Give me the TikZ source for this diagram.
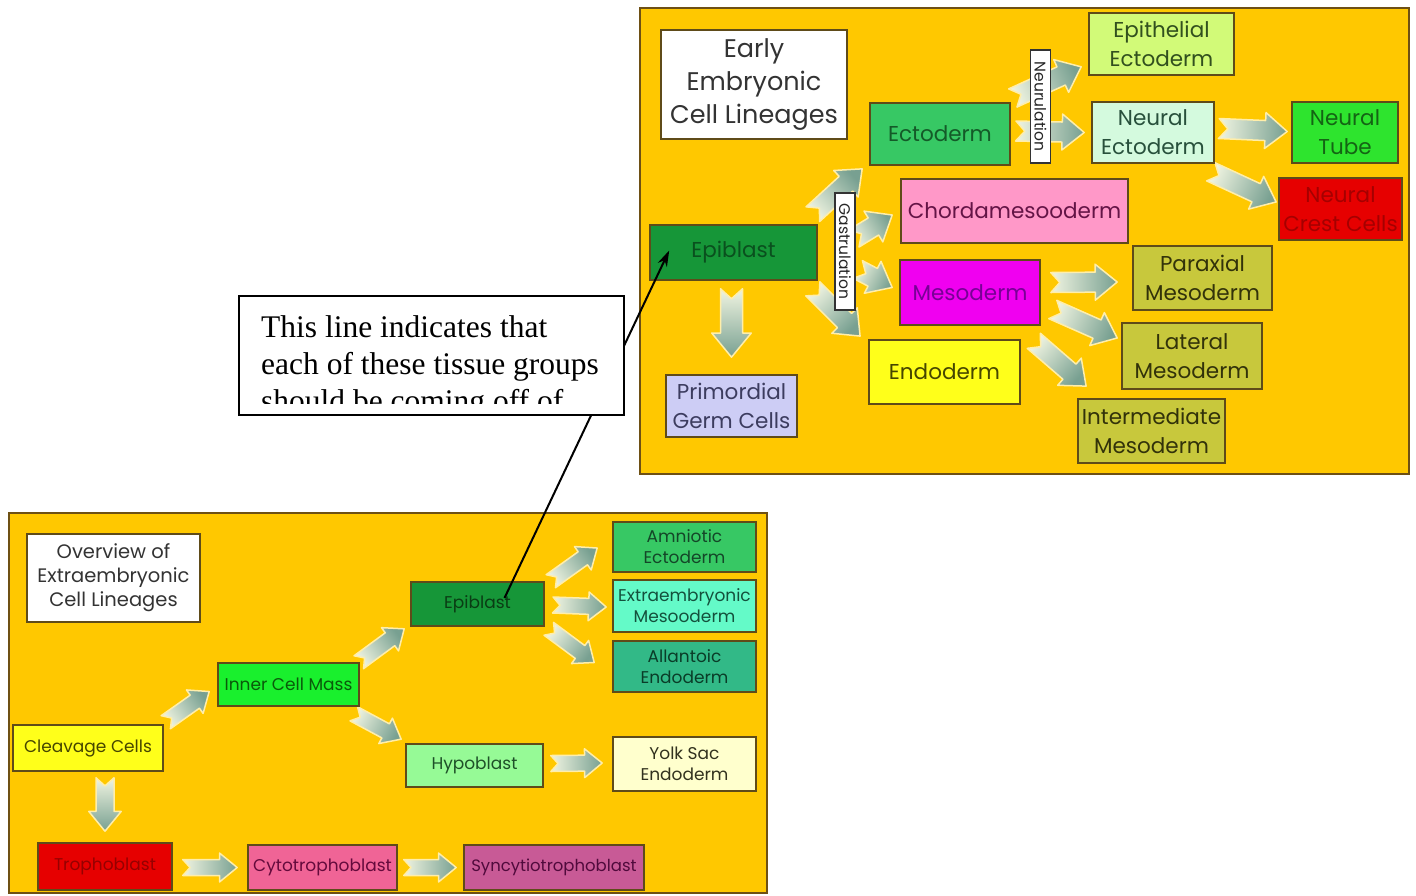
\documentclass[tikz,border=0pt]{standalone}
\usepackage{fontspec}
\setmainfont{Poppins}
\newfontfamily\calloutfont{Liberation Serif}
\usetikzlibrary{calc,arrows.meta}
\pgfdeclarelayer{panel}
\pgfdeclarelayer{arrowlayer}
\pgfsetlayers{panel,arrowlayer,main}

\definecolor{panelc}{RGB}{255,200,0}
\definecolor{panelline}{RGB}{110,80,20}
\definecolor{boxline}{RGB}{95,75,25}
\definecolor{arrtail}{RGB}{240,244,225}
\definecolor{arrhead}{RGB}{120,160,145}
\definecolor{arrglow}{RGB}{255,238,170}
% fills
\definecolor{cEcto}{RGB}{55,200,100}
\definecolor{cEpith}{RGB}{210,250,120}
\definecolor{cNEcto}{RGB}{212,250,222}
\definecolor{cTube}{RGB}{46,228,46}
\definecolor{cRed}{RGB}{230,0,0}
\definecolor{cChorda}{RGB}{255,152,200}
\definecolor{cEpi}{RGB}{22,150,56}
\definecolor{cMeso}{RGB}{240,0,240}
\definecolor{cEndo}{RGB}{255,255,26}
\definecolor{cPrim}{RGB}{205,205,245}
\definecolor{cOlive}{RGB}{200,200,60}
\definecolor{cICM}{RGB}{25,240,45}
\definecolor{cHypo}{RGB}{150,250,150}
\definecolor{cExtra}{RGB}{100,250,200}
\definecolor{cAllan}{RGB}{50,185,135}
\definecolor{cYolk}{RGB}{255,255,205}
\definecolor{cCyto}{RGB}{240,100,150}
\definecolor{cSync}{RGB}{200,90,150}

\tikzset{
  box/.style={draw=boxline, line width=1.6pt, inner sep=0pt, align=center},
  topf/.style={font=\fontsize{21.5}{29}\selectfont},
  botf/.style={font=\fontsize{17}{21}\selectfont},
  blockarrow/.style={draw=arrglow, line width=1.5pt, line join=round, top color=arrhead, bottom color=arrtail},
  panelbox/.style={fill=panelc, draw=panelline, line width=1.6pt},
  vlabel/.style={draw=black!80, fill=white, line width=1.2pt, inner sep=0pt, rotate=-90, font=\fontsize{15.5}{17}\selectfont, text=black!85},
  callout/.style={draw=black, fill=white, line width=1.3pt},
  pointer/.style={draw=black, line width=2pt, -{Stealth[length=16pt,width=10pt]}},
}

% \bx[style]{name}{x1}{y1}{x2}{y2}{fill}{text}
\newcommand{\bx}[8][]{\node[box,fill=#7,minimum width={#5-#3},minimum height={#6-#4},#1] (#2) at ({(#3+#5)/2},{(#4+#6)/2}) {#8};}

% \barrow[half shaft width]{tail}{head}
\newcommand{\barrow}[3][10]{%
  \path let \p1=#2, \p2=#3 in \pgfextra{%
    \pgfmathsetmacro\baAng{atan2(\y2-\y1,\x2-\x1)}%
    \pgfmathsetmacro\baLen{veclen(\x2-\x1,\y2-\y1)}%
    \pgfmathsetmacro\baSh{\baAng-90}%
    \xdef\baAngG{\baAng}\xdef\baLenG{\baLen}\xdef\baShG{\baSh}%
    \xdef\baX{\x1}\xdef\baY{\y1}};%
  \def\bw{#1}%
  \begin{scope}[shift={(\baX,\baY)}, rotate=\baAngG]
    \shadedraw[blockarrow, shading angle=\baShG]
      (0pt,{\bw pt}) -- ({\baLenG pt-2.2*\bw pt},{\bw pt}) -- ({\baLenG pt-2.2*\bw pt},{1.8*\bw pt})
      -- ({\baLenG pt},0pt) -- ({\baLenG pt-2.2*\bw pt},{-1.8*\bw pt}) -- ({\baLenG pt-2.2*\bw pt},{-\bw pt})
      -- (0pt,{-\bw pt}) -- ({0.9*\bw pt},0pt) -- cycle;
  \end{scope}%
}

\begin{document}
\begin{tikzpicture}[x=1pt,y=-1pt]
\useasboundingbox (0,0) rectangle (1416,895);

\begin{pgfonlayer}{panel}
  \draw[panelbox] (640,8) rectangle (1409,474);
  \draw[panelbox] (9,513) rectangle (767,893);
\end{pgfonlayer}

% ---------- top panel ----------
\bx[font=\fontsize{25.5}{33}\selectfont, text=black!80]{titleT}{661}{30}{847}{139}{white}{Early\\Embryonic\\Cell Lineages}
\bx[topf, text={rgb,255:red,20;green,90;blue,40}]{ecto}{870}{103}{1010}{165}{cEcto}{Ectoderm}
\bx[topf, text={rgb,255:red,50;green,80;blue,30}]{epith}{1089}{13}{1234}{75}{cEpith}{Epithelial\\Ectoderm}
\bx[topf, text={rgb,255:red,40;green,80;blue,60}]{nEcto}{1092}{102}{1214}{163}{cNEcto}{Neural\\Ectoderm}
\bx[topf, text={rgb,255:red,20;green,100;blue,20}]{tube}{1292}{102}{1398}{163}{cTube}{Neural\\Tube}
\bx[topf, text={rgb,255:red,165;green,0;blue,0}]{crest}{1279}{178}{1402}{240}{cRed}{Neural\\Crest Cells}
\bx[topf, text={rgb,255:red,100;green,20;blue,70}]{chorda}{901}{179}{1128}{243}{cChorda}{Chordamesooderm}
\bx[topf, text={rgb,255:red,10;green,80;blue,30}]{epiT}{650}{225}{817}{280}{cEpi}{Epiblast}
\bx[topf, text={rgb,255:red,120;green,0;blue,150}]{meso}{900}{260}{1040}{325}{cMeso}{Mesoderm}
\bx[topf, text={rgb,255:red,70;green,70;blue,0}]{endo}{869}{340}{1020}{404}{cEndo}{Endoderm}
\bx[topf, text={rgb,255:red,60;green,60;blue,95}]{prim}{666}{375}{797}{437}{cPrim}{Primordial\\Germ Cells}
\bx[topf, text={rgb,255:red,50;green,50;blue,10}]{para}{1133}{246}{1272}{310}{cOlive}{Paraxial\\Mesoderm}
\bx[topf, text={rgb,255:red,50;green,50;blue,10}]{lat}{1122}{323}{1262}{389}{cOlive}{Lateral\\Mesoderm}
\bx[topf, text={rgb,255:red,50;green,50;blue,10}]{inter}{1078}{399}{1225}{463}{cOlive}{Intermediate\\Mesoderm}

% ---------- bottom panel ----------
\bx[font=\fontsize{19.5}{24}\selectfont, text=black!80]{titleB}{27}{534}{200}{622}{white}{Overview of\\Extraembryonic\\Cell Lineages}
\bx[botf, text={rgb,255:red,70;green,70;blue,0}]{cleav}{13}{725}{163}{771}{cEndo}{Cleavage Cells}
\bx[botf, text={rgb,255:red,10;green,90;blue,10}]{icm}{218}{663}{359}{706}{cICM}{Inner Cell Mass}
\bx[botf, text={rgb,255:red,10;green,60;blue,20}]{epiB}{411}{582}{544}{626}{cEpi}{Epiblast}
\bx[botf, text={rgb,255:red,30;green,80;blue,40}]{hypo}{406}{744}{543}{787}{cHypo}{Hypoblast}
\bx[botf, text={rgb,255:red,20;green,70;blue,40}]{amn}{613}{522}{756}{572}{cEcto}{Amniotic\\Ectoderm}
\bx[botf, text={rgb,255:red,20;green,80;blue,60}]{extra}{613}{580}{756}{632}{cExtra}{Extraembryonic\\Mesooderm}
\bx[botf, text={rgb,255:red,10;green,60;blue,40}]{allan}{613}{641}{756}{692}{cAllan}{Allantoic\\Endoderm}
\bx[botf, text={rgb,255:red,50;green,50;blue,30}]{yolk}{613}{737}{756}{791}{cYolk}{Yolk Sac\\Endoderm}
\bx[botf, text={rgb,255:red,150;green,0;blue,0}]{troph}{38}{843}{172}{890}{cRed}{Trophoblast}
\bx[botf, text={rgb,255:red,100;green,10;blue,60}]{cyto}{248}{845}{397}{890}{cCyto}{Cytotrophoblast}
\bx[botf, font=\fontsize{16.5}{21}\selectfont, text={rgb,255:red,80;green,10;blue,60}]{sync}{464}{845}{644}{890}{cSync}{Syncytiotrophoblast}

% ---------- block arrows ----------
\begin{pgfonlayer}{arrowlayer}
  \barrow{($(epiT.north east)+(-5,-10)$)}{($(ecto.south west)+(-7,3)$)}
  \barrow{($(epiT.east)+(36,-14)$)}{($(chorda.west)+(-8,4)$)}
  \barrow{($(epiT.east)+(40,17)$)}{($(meso.west)+(-7,-5)$)}
  \barrow{($(epiT.south east)+(-5,8)$)}{($(endo.north west)+(-8,-3)$)}
  \barrow[11]{($(epiT.south)+(-2,8)$)}{($(prim.north)+(0,-17)$)}
  \barrow{($(ecto.east)+(2,-36)$)}{($(epith.south west)+(-7,-9)$)}
  \barrow{($(ecto.east)+(5,-3)$)}{($(nEcto.west)+(-7,0)$)}
  \barrow{($(nEcto.east)+(4,-4)$)}{($(tube.west)+(-4,-1)$)}
  \barrow{($(nEcto.south east)+(-4,8)$)}{($(crest.west)+(-2,-7)$)}
  \barrow{($(meso.east)+(10,-10)$)}{($(para.west)+(-15,4)$)}
  \barrow{($(meso.east)+(12,17)$)}{($(lat.west)+(-4,-18)$)}
  \barrow{($(meso.south east)+(-7,15)$)}{($(inter.north west)+(9,-12)$)}
  % bottom
  \barrow[8]{($(cleav.north east)+(2,-2)$)}{($(icm.west)+(-8,7)$)}
  \barrow[9]{($(cleav.south)+(17,6)$)}{($(troph.north)+(0,-11)$)}
  \barrow[8]{($(icm.north east)+(-1,0)$)}{($(epiB.south west)+(-6,2)$)}
  \barrow[8]{($(icm.south east)+(-6,7)$)}{($(hypo.north west)+(-4,-4)$)}
  \barrow[8]{($(epiB.north east)+(6,0)$)}{($(amn.west)+(-15,1)$)}
  \barrow[8]{($(epiB.east)+(8,1)$)}{($(extra.west)+(-6,1)$)}
  \barrow[8]{($(epiB.south east)+(4,2)$)}{($(allan.west)+(-18,-4)$)}
  \barrow[8]{($(hypo.east)+(7,-2)$)}{($(yolk.west)+(-10,-1)$)}
  \barrow[8]{($(troph.east)+(10,1)$)}{($(cyto.west)+(-10,0)$)}
  \barrow[8]{($(cyto.east)+(6,0)$)}{($(sync.west)+(-7,0)$)}
\end{pgfonlayer}

% ---------- process labels ----------
\node[vlabel, minimum width=113, minimum height=20] (neur) at (1040.5,106.5) {Neurulation};
\node[vlabel, minimum width=117, minimum height=20] (gast) at (845,251.5) {Gastrulation};

% ---------- callout ----------
\draw[pointer] ($(epiB.center)+(27,-6)$) -- ($(epiT.west)+(20,-2)$);
\node[callout, minimum width=385, minimum height=119, inner sep=0pt] (note) at (431.5,355.5) {};
\begin{scope}
  \clip (240,297) rectangle (623,403);
  \node[anchor=north west, inner sep=0pt, align=left, font=\calloutfont\fontsize{31.5}{37}\selectfont] (notetext) at (261,315)
    {This line indicates that\\each of these tissue groups\\should be coming off of};
\end{scope}
\end{tikzpicture}
\end{document}
